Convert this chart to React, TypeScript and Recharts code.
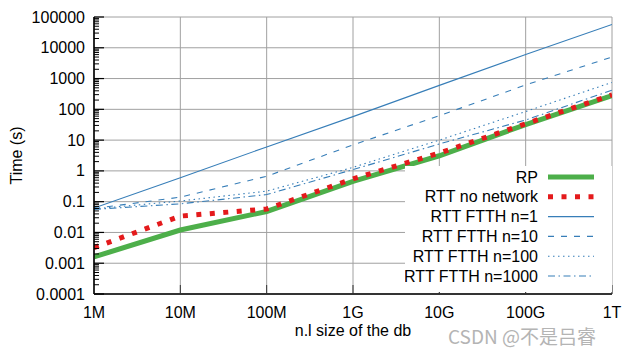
import React from 'react';
import { LineChart, Line, XAxis, YAxis, CartesianGrid, Legend, Label } from 'recharts';

const FONT = '"Liberation Sans", Arial, Helvetica, sans-serif';
const FS = 16;

// x: n.l size of the db
const sizes = [1e6, 1e7, 1e8, 1e9, 1e10, 1e11, 1e12];
const sizeLabels = ['1M', '10M', '100M', '1G', '10G', '100G', '1T'];

// y: Time (s)
const timeTicks = [1e-4, 1e-3, 1e-2, 1e-1, 1, 10, 100, 1000, 10000, 100000];
const timeLabels = ['0.0001', '0.001', '0.01', '0.1', '1', '10', '100', '1000', '10000', '100000'];

// series values (seconds) at each size
const rp = [0.0016, 0.012, 0.048, 0.46, 3.1, 32, 280];
const rttNoNetwork = [0.0032, 0.034, 0.058, 0.55, 3.8, 34, 295];
const rttFtthN1 = [0.062, 0.6, 6, 58, 600, 6000, 57000];
const rttFtthN10 = [0.06, 0.14, 0.67, 7, 62, 620, 5000];
const rttFtthN100 = [0.058, 0.105, 0.22, 1.3, 10, 85, 750];
const rttFtthN1000 = [0.056, 0.085, 0.17, 1.1, 7.5, 45, 420];

const series = [
  { key: 'rp', name: 'RP', values: rp, color: '#4daf4a', width: 5, dash: undefined as string | undefined },
  { key: 'rttNoNetwork', name: 'RTT no network', values: rttNoNetwork, color: '#e41a1c', width: 5, dash: '5 8.5' },
  { key: 'n1', name: 'RTT FTTH n=1', values: rttFtthN1, color: '#377eb8', width: 1.1, dash: undefined },
  { key: 'n10', name: 'RTT FTTH n=10', values: rttFtthN10, color: '#377eb8', width: 1.1, dash: '6 7' },
  { key: 'n100', name: 'RTT FTTH n=100', values: rttFtthN100, color: '#377eb8', width: 1.1, dash: '1.5 3.5' },
  { key: 'n1000', name: 'RTT FTTH n=1000', values: rttFtthN1000, color: '#377eb8', width: 1.1, dash: '7 3.5 1.5 3.5' },
];

const data = sizes.map((s, i) => {
  const row: Record<string, number> = { size: s };
  series.forEach((se) => {
    row[se.key] = se.values[i];
  });
  return row;
});

// log minor ticks between major decades
const minorTimeTicks: number[] = [];
for (let i = 0; i < timeTicks.length - 1; i++) {
  for (let m = 2; m <= 9; m++) minorTimeTicks.push(m * timeTicks[i]);
}
const allTimeTicks = [...timeTicks, ...minorTimeTicks].sort((a, b) => a - b);

const majorIndex = (v: number) => timeTicks.findIndex((t) => Math.abs(t - v) / t < 1e-9);

const LeftTick = (props: any) => {
  const { x, y, payload } = props;
  const idx = majorIndex(payload.value);
  if (idx < 0) {
    return <line x1={x} x2={x + 5} y1={y} y2={y} stroke="#000" strokeWidth={1} />;
  }
  return (
    <g>
      <line x1={x} x2={x + 10} y1={y} y2={y} stroke="#000" strokeWidth={1.2} />
      <text x={x - 9} y={y} dy="0.35em" textAnchor="end" fontSize={FS} fontFamily={FONT} fill="#000">
        {timeLabels[idx]}
      </text>
    </g>
  );
};

const RightTick = (props: any) => {
  const { x, y, payload } = props;
  const idx = majorIndex(payload.value);
  const len = idx < 0 ? 5 : 10;
  return <line x1={x} x2={x - len} y1={y} y2={y} stroke="#000" strokeWidth={idx < 0 ? 1 : 1.2} />;
};

const BottomTick = (props: any) => {
  const { x, y, payload, index } = props;
  return (
    <g>
      <line x1={x} x2={x} y1={y} y2={y - 9} stroke="#333" strokeWidth={1} />
      <text x={x} y={y + 24} textAnchor="middle" fontSize={FS} fontFamily={FONT} fill="#000">
        {sizeLabels[index] ?? ''}
      </text>
    </g>
  );
};

const YLabel = (props: any) => {
  const vb = props.viewBox || {};
  const cx = (vb.x ?? 0) + 16;
  const cy = (vb.y ?? 0) + (vb.height ?? 0) / 2;
  return (
    <text
      x={cx}
      y={cy}
      transform={`rotate(-90, ${cx}, ${cy})`}
      textAnchor="middle"
      dominantBaseline="central"
      fontSize={FS}
      fontFamily={FONT}
      fill="#000"
    >
      Time (s)
    </text>
  );
};

const XLabel = (props: any) => {
  const vb = props.viewBox || {};
  const cx = (vb.x ?? 0) + (vb.width ?? 0) / 2;
  const by = (vb.y ?? 0) + 42;
  return (
    <text x={cx} y={by} textAnchor="middle" fontSize={FS} fontFamily={FONT} fill="#000">
      n.l size of the db
    </text>
  );
};

const renderLegend = () => {
  const rowH = 19.8;
  return (
    <div style={{ width: 207, height: 126, background: '#fff' }}>
      <svg width={207} height={126} style={{ display: 'block' }}>
        {series.map((se, i) => {
          const y = 11 + i * rowH;
          return (
            <g key={se.key}>
              <text
                x={133}
                y={y}
                dy="0.35em"
                textAnchor="end"
                fontSize={FS}
                fontFamily={FONT}
                fill="#000"
              >
                {se.name}
              </text>
              <line
                x1={143}
                x2={189}
                y1={y}
                y2={y}
                stroke={se.color}
                strokeWidth={se.width}
                strokeDasharray={se.dash}
              />
            </g>
          );
        })}
      </svg>
    </div>
  );
};

export default function App() {
  return (
    <div style={{ position: 'absolute', left: 0, top: 0, width: 630, height: 350, background: '#fff' }}>
      <LineChart
        width={630}
        height={350}
        data={data}
        margin={{ top: 17, right: 18, bottom: 0, left: 0 }}
        style={{ background: '#fff' }}
      >
        <CartesianGrid
          stroke="#a0a0a0"
          strokeWidth={1}
          horizontalValues={timeTicks}
          verticalValues={sizes}
        />
        <XAxis
          dataKey="size"
          type="number"
          scale="log"
          domain={[1e6, 1e12]}
          allowDataOverflow
          ticks={sizes}
          interval={0}
          height={56}
          tickSize={0}
          tickMargin={0}
          tickLine={false}
          axisLine={{ stroke: '#000', strokeWidth: 1.6 }}
          tick={<BottomTick />}
        >
          <Label content={<XLabel />} />
        </XAxis>
        <XAxis
          xAxisId="top"
          orientation="top"
          dataKey="size"
          type="number"
          scale="log"
          domain={[1e6, 1e12]}
          allowDataOverflow
          height={0}
          tick={false}
          tickLine={false}
          axisLine={{ stroke: '#000', strokeWidth: 1.6 }}
        />
        <YAxis
          type="number"
          scale="log"
          domain={[1e-4, 1e5]}
          allowDataOverflow
          ticks={allTimeTicks}
          interval={0}
          width={94}
          tickSize={0}
          tickMargin={0}
          tickLine={false}
          axisLine={{ stroke: '#000', strokeWidth: 1.6 }}
          tick={<LeftTick />}
        >
          <Label content={<YLabel />} />
        </YAxis>
        <YAxis
          yAxisId="right"
          orientation="right"
          type="number"
          scale="log"
          domain={[1e-4, 1e5]}
          allowDataOverflow
          ticks={allTimeTicks}
          interval={0}
          width={0}
          tickSize={0}
          tickMargin={0}
          tickLine={false}
          axisLine={{ stroke: '#000', strokeWidth: 1.6 }}
          tick={<RightTick />}
        />
        {series.map((se) => (
          <Line
            key={se.key}
            dataKey={se.key}
            name={se.name}
            type="linear"
            stroke={se.color}
            strokeWidth={se.width}
            strokeDasharray={se.dash}
            dot={false}
            activeDot={false}
            isAnimationActive={false}
          />
        ))}
        <Legend
          layout="vertical"
          align="center"
          verticalAlign="middle"
          content={renderLegend}
          wrapperStyle={{ left: 405, top: 166, width: 207, height: 126 }}
        />
      </LineChart>
      <div
        style={{
          position: 'absolute',
          left: 448,
          top: 326,
          fontSize: 19,
          lineHeight: '19px',
          fontFamily: '"Noto Sans CJK SC", "Liberation Sans", sans-serif',
          color: '#b4b4b4',
          whiteSpace: 'nowrap',
        }}
      >
        CSDN @不是吕睿
      </div>
    </div>
  );
}
